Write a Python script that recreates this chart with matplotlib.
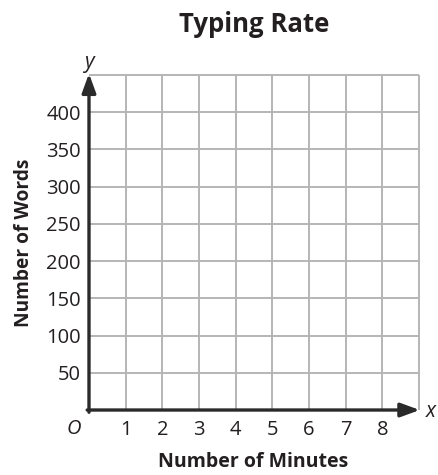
import matplotlib
matplotlib.use("Agg")
import matplotlib.pyplot as plt

# Data
title = "Typing Rate"
x_label = "Number of Minutes"
y_label = "Number of Words"
x_ticks = [1, 2, 3, 4, 5, 6, 7, 8]
y_ticks = [50, 100, 150, 200, 250, 300, 350, 400]
x_max = 9
y_max = 450
x_step = 1
y_step = 50

plt.rcParams['font.family'] = ['Open Sans', 'DejaVu Sans']
txt = '#231f20'

fig = plt.figure(figsize=(4.39, 4.75), dpi=100)
ax = fig.add_axes([0.2027, 0.1368, 0.9545 - 0.2027, 0.842 - 0.1368])
ax.set_xlim(0, x_max)
ax.set_ylim(0, y_max)

grid_x = [i * x_step for i in range(1, int(x_max / x_step) + 1)]
grid_y = [i * y_step for i in range(1, int(y_max / y_step) + 1)]
ax.vlines(grid_x, 0, y_max, colors='#b5b5b5', linewidth=1.4, zorder=1, clip_on=False)
ax.hlines(grid_y, 0, x_max, colors='#b5b5b5', linewidth=1.4, zorder=1, clip_on=False)

for s in ax.spines.values():
    s.set_visible(False)

ax.set_xticks(x_ticks)
ax.set_xticklabels([str(v) for v in x_ticks])
ax.set_yticks(y_ticks)
ax.set_yticklabels([str(v) for v in y_ticks])
ax.tick_params(axis='both', length=0, labelsize=14.5, colors=txt)
ax.tick_params(axis='x', pad=7)
ax.tick_params(axis='y', pad=6)

arrow = dict(arrowstyle='-|>,head_length=1.15,head_width=0.42', color='#2a2a2a', lw=2.4,
             shrinkA=0, shrinkB=0)
ax.annotate('', xy=(x_max + 0.02, 0), xytext=(-0.05, 0), arrowprops=arrow,
            annotation_clip=False, zorder=3)
ax.annotate('', xy=(0, y_max + 2), xytext=(0, -3), arrowprops=arrow,
            annotation_clip=False, zorder=3)

ax.text(x_max + 0.33, -2, 'x', style='italic', fontsize=15, color=txt,
        ha='center', va='center')
ax.text(0.0, y_max + 17, 'y', style='italic', fontsize=15, color=txt,
        ha='center', va='center')
ax.text(-0.42, -25, 'O', style='italic', fontsize=14.5, color=txt,
        ha='center', va='center')

fig.text(0.578, 0.948, title, fontsize=18.5, fontweight='bold', color=txt,
         ha='center', va='center')
fig.text(0.577, 0.027, x_label, fontsize=14, fontweight='bold', color=txt,
         ha='center', va='center')
fig.text(0.055, 0.488, y_label, fontsize=13.8, fontweight='bold', color=txt,
         ha='center', va='center', rotation=90)

fig.savefig('out.png', dpi=100)
